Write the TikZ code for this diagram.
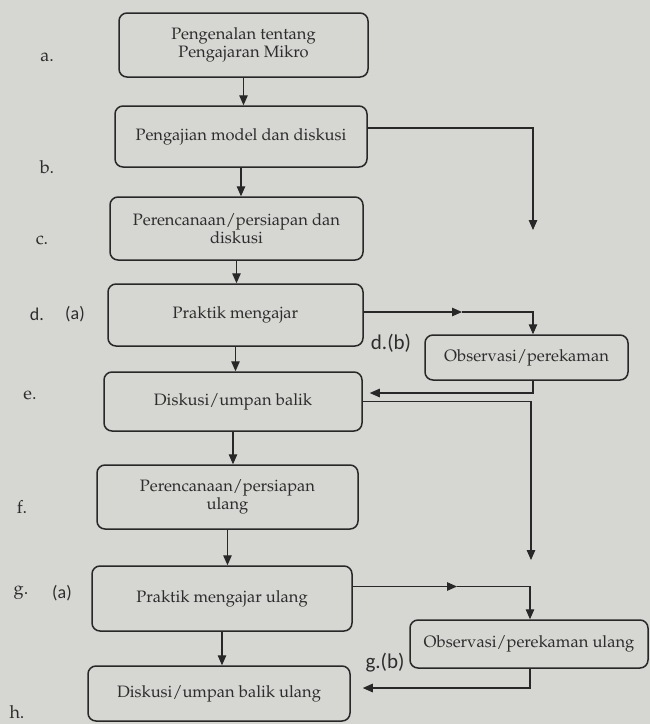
\documentclass[tikz,border=0pt]{standalone}
\usepackage[T1]{fontenc}
\usepackage{fontspec}
\newfontfamily\calib{Carlito}
\newcommand\pal{\fontencoding{T1}\fontfamily{ppl}\selectfont}
\usetikzlibrary{arrows.meta}
\definecolor{bg}{RGB}{214,214,211}
\definecolor{ink}{RGB}{40,40,40}
\definecolor{txt}{RGB}{45,45,45}
\tikzset{
  stepbox/.style={draw=ink, line width=1.5pt, rounded corners=8pt, align=center,
    text=txt, inner sep=2pt, font=\pal\fontsize{16.5}{18}\selectfont},
  arr/.style={draw=ink, line width=1.2pt, -{Triangle[length=10pt,width=8.5pt]}},
  lab/.style={text=txt, font=\pal\fontsize{18}{20}\selectfont, inner sep=0pt},
  clab/.style={text=txt, font=\calib\fontsize{18}{20}\selectfont, inner sep=0pt},
  blab/.style={text=txt, font=\calib\fontsize{21}{23}\selectfont, inner sep=0pt}
}
\begin{document}
\begin{tikzpicture}[x=1pt,y=-1pt]
\path[fill=bg,use as bounding box] (0,0) rectangle (650,724);
% main boxes
\node[stepbox, minimum width=249pt, minimum height=64pt] (a) at (243.5,45) {Pengenalan tentang\\Pengajaran Mikro};
\node[stepbox, minimum width=252pt, minimum height=61pt] (b) at (241,136.5) {Pengajian model dan diskusi};
\node[stepbox, minimum width=253pt, minimum height=63pt] (c) at (236.5,228.5) {Perencanaan/persiapan dan\\diskusi};
\node[stepbox, minimum width=255pt, minimum height=62pt] (d) at (235.5,315) {Praktik mengajar};
\node[stepbox, minimum width=258pt, minimum height=59pt] (e) at (233,401.5) {Diskusi/umpan balik};
\node[stepbox, minimum width=261pt, minimum height=64pt] (f) at (227.5,497) {Perencanaan/persiapan\\ulang};
\node[stepbox, minimum width=260pt, minimum height=65pt] (g) at (222,598.5) {Praktik mengajar ulang};
\node[stepbox, minimum width=262pt, minimum height=55pt] (h) at (219,693.5) {Diskusi/umpan balik ulang};
% observation boxes
\node[stepbox, minimum width=203pt, minimum height=45pt] (o1) at (526.5,357.5) {Observasi/perekaman};
\node[stepbox, minimum width=238pt, minimum height=48pt] (o2) at (529,644) {Observasi/perekaman ulang};
% labels
\node[lab] (la) at (47,57) {a.};
\node[lab] (lb) at (47,167) {b.};
\node[lab] (lc) at (42,240) {c.};
\node[clab] (ld) at (37,314) {d.};
\node[clab] (lda) at (75,314) {(a)};
\node[lab] (le) at (30,395) {e.};
\node[lab] (lf) at (22,507) {f.};
\node[lab] (lg) at (21,593) {g.};
\node[clab] (lga) at (62,593) {(a)};
\node[lab] (lh) at (17,712) {h.};
\node[blab] (ldb) at (391,343) {d.(b)};
\node[blab] (lgb) at (385,663) {g.(b)};
% coordinates
\coordinate (bfree) at (533,230);
\coordinate (dmid) at (462,312);
\coordinate (dturn) at (533,312);
\coordinate (efree) at (531,560);
\coordinate (gmid) at (457,586.5);
\coordinate (gturn) at (530,586.5);
% main flow
\draw[arr] (a.south) -- (a.south |- b.north);
\draw[arr] (b.south) -- (b.south |- c.north);
\draw[arr] (c.south) -- (c.south |- d.north);
\draw[arr] (d.south) -- (d.south |- e.north);
\draw[arr] (e.south) -- (e.south |- f.north);
\draw[arr] (f.south) -- (f.south |- g.north);
\draw[arr] (g.south) -- (g.south |- h.north);
% side branches
\draw[arr] ([yshift=8.5pt]b.east) -| (bfree);
\draw[arr] ([yshift=3pt]d.east) -- (dmid);
\draw[arr] (dmid) -- (dturn) -- (dturn |- o1.north);
\draw[arr, shorten >=7pt] (dturn |- o1.south) |- ([yshift=8.5pt]e.east);
\draw[arr] (e.east) -| (efree);
\draw[arr] ([yshift=12pt]g.east) -- (gmid);
\draw[arr] (gmid) -- (gturn) -- (gturn |- o2.north);
\draw[arr, shorten >=12pt] (gturn |- o2.south) |- ([yshift=5.5pt]h.east);
\end{tikzpicture}
\end{document}
